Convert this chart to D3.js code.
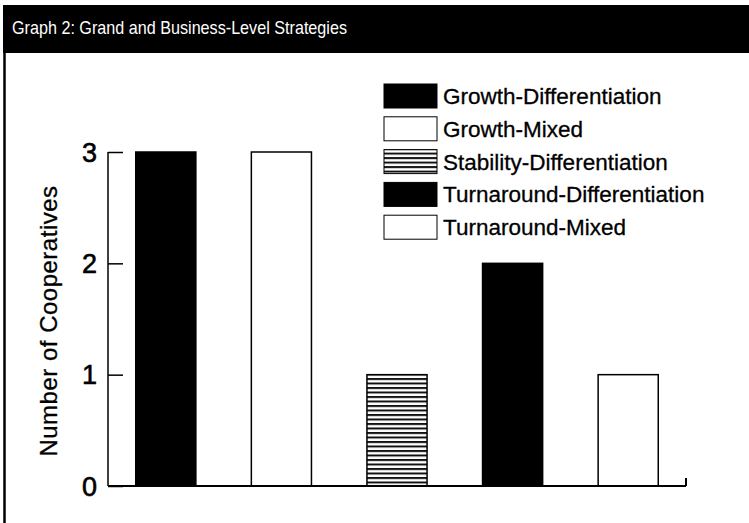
<!DOCTYPE html>
<html>
<head>
<meta charset="utf-8">
<script src="https://cdn.jsdelivr.net/npm/d3@7"></script>
<style>
  body { margin: 0; background: #fff; }
  svg { display: block; font-family: "Liberation Sans", Arial, Helvetica, sans-serif; }
</style>
</head>
<body>
<div class="myBox"></div>
<script>
var width = 749;
var height = 523;

// data
var categories = ["Growth-Differentiation", "Growth-Mixed", "Stability-Differentiation", "Turnaround-Differentiation", "Turnaround-Mixed"];
var values = [3, 3, 1, 2, 1];
var fills = ["black", "white", "stripes", "black", "white"];
var yTicks = [0, 1, 2, 3];

var svg = d3.select(".myBox")
  .append("svg")
  .attr("width", width)
  .attr("height", height);

// stripe pattern for stability bar
var pat = svg.append("defs").append("pattern")
  .attr("id", "stripes")
  .attr("patternUnits", "userSpaceOnUse")
  .attr("width", 8)
  .attr("height", 4.5);
pat.append("rect").attr("width", 8).attr("height", 4.5).attr("fill", "#fff");
pat.append("rect").attr("y", 0).attr("width", 8).attr("height", 2).attr("fill", "#111");

function fillOf(f) { return f == "stripes" ? "url(#stripes)" : (f == "black" ? "#000" : "#fff"); }

// title bar + left frame
svg.append("rect").attr("x", 3).attr("y", 5).attr("width", width - 3).attr("height", 48).attr("fill", "#000");
svg.append("text")
  .attr("x", 12).attr("y", 34)
  .attr("fill", "#fff")
  .style("font-size", "19px")
  .attr("textLength", 335)
  .attr("lengthAdjust", "spacingAndGlyphs")
  .text("Graph 2: Grand and Business-Level Strategies");
svg.append("line").attr("x1", 4.5).attr("x2", 4.5).attr("y1", 5).attr("y2", height).attr("stroke", "#000").attr("stroke-width", 2.5);

var x = d3.scaleBand()
  .domain(categories)
  .range([108, 686])
  .paddingInner(0.48)
  .paddingOuter(0.24);

var y = d3.scaleLinear()
  .domain([0, 3])
  .range([486, 152]);

var g = svg.append("g");

// bars
g.selectAll("rect.bar")
  .data(categories)
  .enter().append("rect")
    .attr("class", "bar")
    .attr("x", function(d) { return x(d); })
    .attr("y", function(d, i) { return y(values[i]); })
    .attr("width", x.bandwidth())
    .attr("height", function(d, i) { return y(0) - y(values[i]); })
    .attr("fill", function(d, i) { return fillOf(fills[i]); })
    .attr("stroke", "#000")
    .attr("stroke-width", 1.5);

// y axis, ticks pointing inward
var yAxis = g.append("g")
  .attr("transform", "translate(108,0)")
  .call(d3.axisRight(y).tickValues(yTicks).tickSize(15).tickFormat(""));
yAxis.select(".domain").remove();
yAxis.selectAll(".tick line").attr("stroke", "#000").attr("stroke-width", 1.5);
g.append("line").attr("x1", 108).attr("x2", 108).attr("y1", y(3)).attr("y2", y(0)).attr("stroke", "#000").attr("stroke-width", 1.5);

g.selectAll("text.ylab")
  .data(yTicks)
  .enter().append("text")
    .attr("class", "ylab")
    .attr("x", 97)
    .attr("y", function(d) { return y(d) + 9.5; })
    .attr("text-anchor", "end")
    .style("font-size", "27px")
    .attr("stroke", "#000")
    .attr("stroke-width", 0.6)
    .text(function(d) { return d; });

// x baseline with end tick
g.append("line").attr("x1", 108).attr("x2", 686).attr("y1", y(0)).attr("y2", y(0)).attr("stroke", "#000").attr("stroke-width", 2);
g.append("line").attr("x1", 686).attr("x2", 686).attr("y1", y(0)).attr("y2", y(0) - 8).attr("stroke", "#000").attr("stroke-width", 2);

// y title
svg.append("text")
  .attr("transform", "translate(57,321) rotate(-90)")
  .attr("text-anchor", "middle")
  .style("font-size", "24px")
  .style("letter-spacing", "0.5px")
  .attr("stroke", "#000")
  .attr("stroke-width", 0.3)
  .text("Number of Cooperatives");

// legend
var legend = svg.append("g");
var row = legend.selectAll("g")
  .data(categories)
  .enter().append("g")
    .attr("transform", function(d, i) { return "translate(384," + (96 + i * 32.8) + ")"; });
row.append("rect")
  .attr("x", 0).attr("y", -12)
  .attr("width", 53).attr("height", 24)
  .attr("fill", function(d, i) { return fillOf(fills[i]); })
  .attr("stroke", "#000")
  .attr("stroke-width", 1);
row.append("text")
  .attr("x", 59).attr("y", 8)
  .style("font-size", "22.5px")
  .attr("stroke", "#000")
  .attr("stroke-width", 0.3)
  .text(function(d) { return d; });
</script>
</body>
</html>
